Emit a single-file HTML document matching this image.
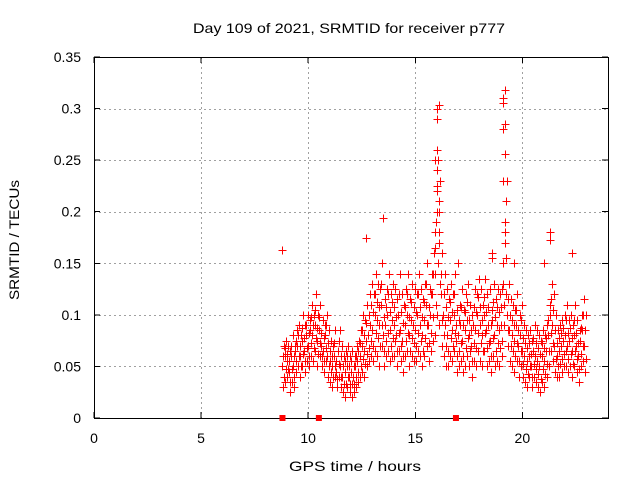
<!DOCTYPE html>
<html><head><meta charset="utf-8"><style>
body{margin:0;background:#fff}
svg{font-family:"Liberation Sans",sans-serif;font-size:14px}
</style></head><body>
<svg id="c" width="640" height="480"></svg>
<script>
const xTicks=[0,5,10,15,20];
const yTicks=[0,0.05,0.1,0.15,0.2,0.25,0.3,0.35];
const yTickLabels=["0","0.05","0.1","0.15","0.2","0.25","0.3","0.35"];
const hours=[8.8,8.9,
9.0,9.1,9.2,9.3,9.4,9.5,9.6,9.7,9.8,9.9,
10.0,10.1,10.2,10.3,10.4,10.5,10.6,10.7,10.8,10.9,
11.0,11.1,11.2,11.3,11.4,11.5,11.6,11.7,11.8,11.9,
12.0,12.1,12.2,12.3,12.4,12.5,12.6,12.7,12.8,12.9,
13.0,13.1,13.2,13.3,13.4,13.5,13.6,13.7,13.8,13.9,
14.0,14.1,14.2,14.3,14.4,14.5,14.6,14.7,14.8,14.9,
15.0,15.1,15.2,15.3,15.4,15.5,15.6,15.7,15.8,15.9,
16.0,16.1,16.2,16.3,16.4,16.5,16.6,16.7,16.8,16.9,
17.0,17.1,17.2,17.3,17.4,17.5,17.6,17.7,17.8,17.9,
18.0,18.1,18.2,18.3,18.4,18.5,18.6,18.7,18.8,18.9,
19.0,19.1,19.2,19.3,19.4,19.5,19.6,19.7,19.8,19.9,
20.0,20.1,20.2,20.3,20.4,20.5,20.6,20.7,20.8,20.9,
21.0,21.1,21.2,21.3,21.4,21.5,21.6,21.7,21.8,21.9,
22.0,22.1,22.2,22.3,22.4,22.5,22.6,22.7,22.8,22.9];
const srmtidMid=[0.05,0.06,
0.055,0.045,0.06,0.05,0.065,0.07,0.06,0.075,0.065,0.08,
0.07,0.085,0.08,0.09,0.075,0.085,0.07,0.065,0.08,0.06,
0.055,0.05,0.06,0.045,0.065,0.05,0.04,0.045,0.05,0.04,
0.045,0.04,0.05,0.055,0.06,0.07,0.065,0.075,0.08,0.09,
0.085,0.1,0.095,0.09,0.11,0.08,0.09,0.1,0.085,0.095,
0.09,0.08,0.1,0.085,0.075,0.09,0.1,0.08,0.095,0.09,
0.085,0.1,0.09,0.08,0.095,0.11,0.09,0.1,0.12,0.14,
0.2,0.17,0.12,0.1,0.09,0.08,0.095,0.085,0.1,0.075,
0.08,0.09,0.075,0.085,0.095,0.08,0.07,0.09,0.085,0.1,
0.09,0.08,0.1,0.085,0.09,0.075,0.095,0.08,0.09,0.085,
0.09,0.13,0.19,0.1,0.085,0.08,0.075,0.09,0.07,0.08,
0.065,0.06,0.055,0.06,0.05,0.065,0.06,0.055,0.05,0.06,
0.055,0.065,0.08,0.1,0.09,0.07,0.06,0.065,0.07,0.075,
0.08,0.07,0.075,0.065,0.08,0.07,0.06,0.075,0.085,0.07];
const srmtidLow=[0.03,0.035,
0.04,0.025,0.035,0.03,0.045,0.05,0.04,0.05,0.045,0.055,
0.05,0.06,0.055,0.065,0.05,0.06,0.05,0.045,0.055,0.04,
0.035,0.03,0.04,0.03,0.04,0.03,0.025,0.02,0.03,0.025,
0.02,0.025,0.03,0.035,0.04,0.045,0.04,0.05,0.055,0.06,
0.055,0.065,0.06,0.05,0.07,0.05,0.06,0.065,0.055,0.06,
0.06,0.05,0.065,0.055,0.045,0.06,0.065,0.05,0.06,0.055,
0.055,0.065,0.06,0.05,0.06,0.07,0.055,0.065,0.075,0.08,
0.1,0.09,0.07,0.06,0.05,0.05,0.06,0.055,0.065,0.045,
0.05,0.055,0.045,0.05,0.06,0.05,0.04,0.055,0.05,0.065,
0.055,0.05,0.065,0.05,0.055,0.045,0.06,0.05,0.055,0.05,
0.06,0.09,0.12,0.07,0.055,0.05,0.045,0.055,0.04,0.05,
0.04,0.035,0.03,0.04,0.03,0.04,0.035,0.03,0.025,0.035,
0.03,0.04,0.05,0.065,0.055,0.045,0.04,0.04,0.045,0.05,
0.05,0.045,0.05,0.04,0.05,0.045,0.035,0.05,0.055,0.045];
const srmtidHigh=[0.07,0.075,
0.07,0.065,0.08,0.07,0.085,0.09,0.08,0.1,0.09,0.1,
0.095,0.11,0.1,0.12,0.1,0.11,0.095,0.09,0.1,0.085,
0.075,0.07,0.085,0.065,0.085,0.07,0.06,0.065,0.07,0.06,
0.065,0.06,0.07,0.075,0.085,0.1,0.095,0.11,0.12,0.13,
0.12,0.14,0.13,0.125,0.15,0.115,0.125,0.14,0.12,0.13,
0.125,0.115,0.14,0.12,0.11,0.125,0.14,0.115,0.13,0.125,
0.12,0.14,0.125,0.115,0.13,0.15,0.125,0.14,0.16,0.19,
0.25,0.23,0.16,0.14,0.125,0.115,0.13,0.12,0.14,0.105,
0.11,0.125,0.105,0.12,0.13,0.11,0.1,0.125,0.12,0.135,
0.125,0.11,0.135,0.12,0.125,0.105,0.13,0.115,0.125,0.12,
0.125,0.17,0.23,0.13,0.115,0.11,0.105,0.12,0.1,0.11,
0.09,0.085,0.08,0.085,0.075,0.09,0.085,0.08,0.075,0.085,
0.08,0.09,0.11,0.13,0.12,0.1,0.085,0.09,0.095,0.1,
0.11,0.095,0.1,0.09,0.11,0.095,0.085,0.1,0.115,0.1];
const extraHours=[8.8,13.5,12.7,15.9,15.9,16.0,16.0,16.0,16.0,16.0,16.1,16.1,16.1,17.0,18.6,18.6,19.1,19.1,19.1,19.1,19.2,19.2,19.2,19.2,19.2,19.6,21.0,21.3,21.3,22.3];
const extraValues=[0.163,0.194,0.175,0.25,0.18,0.30,0.29,0.26,0.24,0.22,0.303,0.21,0.18,0.15,0.16,0.155,0.31,0.305,0.28,0.23,0.318,0.285,0.256,0.19,0.18,0.15,0.15,0.18,0.173,0.16];
const gapHours=[8.8,10.5,16.9];

const svg=document.getElementById('c');
const NS='http://www.w3.org/2000/svg';
const L=94,R=608,T=57,B=418;
const xs=h=>L+(h/24)*(R-L);
const ys=v=>B-(v/0.35)*(B-T);
function mk(tag,at,parent){const e=document.createElementNS(NS,tag);for(const k in at)e.setAttribute(k,at[k]);(parent||svg).appendChild(e);return e;}

const grid=mk('g',{'shape-rendering':'crispEdges'});


xTicks.forEach(t=>{if(t>0)mk('line',{x1:Math.round(xs(t))+0.5,x2:Math.round(xs(t))+0.5,y1:T,y2:B,stroke:'#a0a0a0','stroke-dasharray':'2,3'},grid);});
yTicks.forEach(t=>{if(t>0&&t<0.35)mk('line',{x1:L,x2:R,y1:Math.round(ys(t))+0.5,y2:Math.round(ys(t))+0.5,stroke:'#a0a0a0','stroke-dasharray':'2,3'},grid);});

const ax=mk('g',{'shape-rendering':'crispEdges'});


mk('rect',{x:L+0.5,y:T+0.5,width:R-L,height:B-T,fill:'none',stroke:'#000'},ax);
xTicks.forEach(t=>{
  mk('line',{x1:xs(t),x2:xs(t),y1:B,y2:B-6,stroke:'#000'},ax);
  mk('line',{x1:xs(t),x2:xs(t),y1:T,y2:T+6,stroke:'#000'},ax);
  const tx=mk('text',{x:xs(t),y:443,'text-anchor':'middle'},ax);tx.textContent=t;
  
  
});
yTicks.forEach((t,i)=>{
  mk('line',{x1:L,x2:L+6,y1:ys(t),y2:ys(t),stroke:'#000'},ax);
  mk('line',{x1:R,x2:R-6,y1:ys(t),y2:ys(t),stroke:'#000'},ax);
  const tx=mk('text',{x:81,y:ys(t)+5,'text-anchor':'end'},ax);tx.textContent=yTickLabels[i];
  
  
});

const pts=mk('g',{stroke:'#ff0000','stroke-width':1,fill:'none','shape-rendering':'crispEdges'});


function plus(h,v){const x=Math.round(xs(h))+0.5,y=Math.round(ys(v))+0.5;
  const p=mk('path',{d:`M${x-4},${y}H${x+4}M${x},${y-4}V${y+4}`},pts);
  
  }
hours.forEach((h,i)=>plus(h,srmtidMid[i]));
hours.forEach((h,i)=>plus(h+0.03,srmtidLow[i]));
hours.forEach((h,i)=>plus(h+0.07,srmtidHigh[i]));
hours.forEach((h,i)=>plus(h+0.05,(srmtidMid[i]+srmtidLow[i])/2));
hours.forEach((h,i)=>plus(h+0.02,(srmtidMid[i]+srmtidHigh[i])/2));
extraHours.forEach((h,i)=>plus(h,extraValues[i]));

gapHours.forEach(h=>{const r=mk('rect',{x:xs(h)-3,y:B-3,width:6,height:6,fill:'#ff0000'});
  
  });

const ttl=mk('text',{x:349,y:33,'text-anchor':'middle',textLength:312,lengthAdjust:'spacingAndGlyphs'});ttl.textContent='Day 109 of 2021, SRMTID for receiver p777';


const xl=mk('text',{x:355,y:471,'text-anchor':'middle',textLength:132,lengthAdjust:'spacingAndGlyphs'});xl.textContent='GPS time / hours';


const yl=mk('text',{x:19,y:240,'text-anchor':'middle',transform:'rotate(-90 19 240)',textLength:120,lengthAdjust:'spacingAndGlyphs'});yl.textContent='SRMTID / TECUs';


</script>
</body></html>
